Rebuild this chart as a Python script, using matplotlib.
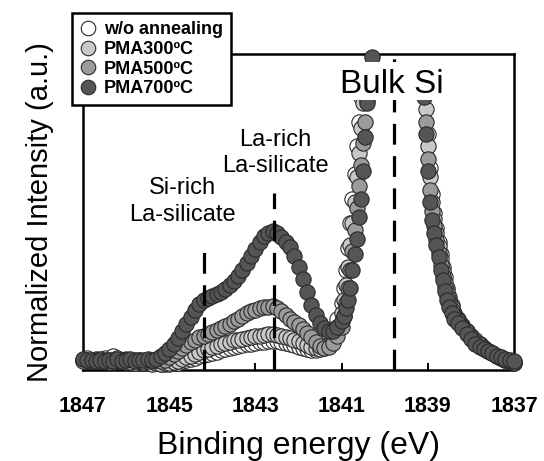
import numpy as np
import matplotlib
matplotlib.use("Agg")
import matplotlib.pyplot as plt
from matplotlib.patches import Rectangle

plt.rcParams['font.family'] = ['Liberation Sans', 'DejaVu Sans']

# binding energy grid (eV); the Si 1s peak top is off scale and not listed
energy = [1847.0, 1846.9, 1846.8, 1846.7, 1846.6, 1846.5, 1846.4, 1846.3, 1846.2, 1846.1,
          1846.0, 1845.9, 1845.8, 1845.7, 1845.6, 1845.5, 1845.4, 1845.3, 1845.2, 1845.1,
          1845.0, 1844.9, 1844.8, 1844.7, 1844.6, 1844.5, 1844.4, 1844.3, 1844.2, 1844.1,
          1844.0, 1843.9, 1843.8, 1843.7, 1843.6, 1843.5, 1843.4, 1843.3, 1843.2, 1843.1,
          1843.0, 1842.9, 1842.8, 1842.7, 1842.6, 1842.5, 1842.4, 1842.3, 1842.2, 1842.1,
          1842.0, 1841.9, 1841.8, 1841.7, 1841.6, 1841.5, 1841.4, 1841.3, 1841.2, 1841.1,
          1841.0,
          1840.95, 1840.9, 1840.85, 1840.8, 1840.75, 1840.7, 1840.65, 1840.6, 1840.55, 1840.5,
          1840.45, 1840.4, 1840.35, 1840.3,
          1839.15, 1839.1, 1839.05, 1839.0, 1838.95, 1838.9, 1838.85, 1838.8, 1838.75, 1838.7,
          1838.65, 1838.6, 1838.55, 1838.5, 1838.45,
          1838.4, 1838.3, 1838.2, 1838.1, 1838.0, 1837.9, 1837.8, 1837.7, 1837.6, 1837.5,
          1837.4, 1837.3, 1837.2, 1837.1, 1837.0]

int_wo = [0.008, 0.012, 0.004, 0.010, 0.006, 0.014, 0.008, 0.020, 0.012, 0.006,
          0.010, 0.004, 0.000, 0.006, -0.002, 0.003, -0.004, 0.000, -0.006, -0.008,
          -0.006, -0.004, -0.002, 0.002, 0.006, 0.010, 0.014, 0.018, 0.022, 0.026,
          0.030, 0.034, 0.038, 0.042, 0.046, 0.050, 0.053, 0.056, 0.058, 0.060,
          0.062, 0.064, 0.066, 0.067, 0.068, 0.067, 0.065, 0.062, 0.058, 0.054,
          0.050, 0.046, 0.042, 0.040, 0.040, 0.044, 0.054, 0.072, 0.100, 0.140,
          0.190,
          0.240, 0.300, 0.370, 0.450, 0.530, 0.610, 0.700, 0.780, 0.860, 1.030,
          1.110, 1.190, 1.260, 1.330,
          1.200, 1.020, 0.880, 0.740, 0.630, 0.545, 0.485, 0.435, 0.390, 0.350,
          0.310, 0.275, 0.240, 0.210, 0.185,
          0.160, 0.140, 0.120, 0.102, 0.086, 0.071, 0.058, 0.047, 0.037, 0.028,
          0.020, 0.013, 0.007, 0.002, -0.002]

int_300 = [0.006, 0.002, 0.007, 0.004, 0.009, 0.003, 0.006, 0.001, 0.005, 0.003,
           0.000, 0.004, -0.002, 0.002, -0.004, 0.000, -0.005, -0.002, -0.006, -0.003,
           -0.004, 0.000, 0.004, 0.010, 0.015, 0.020, 0.026, 0.032, 0.038, 0.043,
           0.048, 0.053, 0.058, 0.062, 0.066, 0.070, 0.073, 0.076, 0.079, 0.082,
           0.084, 0.086, 0.088, 0.090, 0.090, 0.088, 0.085, 0.082, 0.078, 0.073,
           0.068, 0.062, 0.056, 0.050, 0.045, 0.043, 0.046, 0.058, 0.080, 0.115,
           0.160,
           0.200, 0.250, 0.310, 0.380, 0.450, 0.520, 0.600, 0.680, 0.760, 0.840,
           1.020, 1.100, 1.180, 1.250,
           1.150, 0.940, 0.820, 0.700, 0.600, 0.520, 0.465, 0.420, 0.375, 0.335,
           0.295, 0.260, 0.230, 0.200, 0.180,
           0.155, 0.135, 0.118, 0.100, 0.084, 0.070, 0.057, 0.046, 0.037, 0.028,
           0.020, 0.013, 0.007, 0.002, -0.003]

int_500 = [0.004, 0.008, 0.002, 0.006, 0.003, 0.007, 0.001, 0.005, 0.008, 0.002,
           0.005, 0.001, 0.006, 0.003, 0.000, 0.004, 0.002, 0.005, 0.003, 0.008,
           0.016, 0.025, 0.035, 0.045, 0.055, 0.065, 0.073, 0.080, 0.086, 0.092,
           0.098, 0.104, 0.110, 0.117, 0.124, 0.132, 0.140, 0.150, 0.160, 0.166,
           0.170, 0.174, 0.177, 0.180, 0.182, 0.175, 0.165, 0.152, 0.140, 0.130,
           0.120, 0.108, 0.095, 0.080, 0.065, 0.052, 0.046, 0.050, 0.062, 0.085,
           0.115,
           0.150, 0.190, 0.240, 0.300, 0.360, 0.430, 0.500, 0.570, 0.640, 0.710,
           0.780, 0.850, 1.030, 1.120,
           1.080, 0.900, 0.780, 0.660, 0.560, 0.490, 0.440, 0.395, 0.355, 0.315,
           0.280, 0.245, 0.215, 0.190, 0.170,
           0.150, 0.132, 0.115, 0.097, 0.080, 0.066, 0.054, 0.044, 0.036, 0.028,
           0.020, 0.014, 0.008, 0.004, 0.000]

int_700 = [0.010, 0.005, 0.008, 0.003, 0.006, 0.002, 0.007, 0.004, 0.009, 0.003,
           0.006, 0.010, 0.004, 0.008, 0.005, 0.009, 0.006, 0.011, 0.019, 0.029,
           0.042, 0.058, 0.078, 0.100, 0.123, 0.146, 0.168, 0.188, 0.200, 0.207,
           0.213, 0.220, 0.228, 0.238, 0.250, 0.263, 0.280, 0.300, 0.320, 0.345,
           0.368, 0.390, 0.408, 0.420, 0.424, 0.418, 0.405, 0.390, 0.372, 0.345,
           0.310, 0.270, 0.226, 0.186, 0.152, 0.128, 0.110, 0.100, 0.100, 0.112,
           0.132,
           0.150, 0.175, 0.200, 0.240, 0.300, 0.350, 0.400, 0.470, 0.530, 0.620,
           0.730, 0.840, 0.920, 0.990,
           1.050, 0.860, 0.740, 0.620, 0.520, 0.460, 0.420, 0.380, 0.340, 0.300,
           0.265, 0.230, 0.200, 0.180, 0.160,
           0.140, 0.125, 0.110, 0.090, 0.075, 0.060, 0.050, 0.042, 0.035, 0.028,
           0.020, 0.015, 0.010, 0.006, 0.003]

labels = ['w/o annealing', 'PMA300\u00baC', 'PMA500\u00baC', 'PMA700\u00baC']
colors = ['#ffffff', '#c8c8c8', '#9b9b9b', '#555555']

# peak positions marked with dashed lines (eV) and how high they reach
peak_pos = [1844.19, 1842.56, 1839.79]
peak_top = [0.36, 0.55, 1.02]

fig = plt.figure(figsize=(5.44, 4.61), dpi=100)
ax = fig.add_axes([0.1526, 0.1974, 0.7923, 0.6855])

E = np.array(energy)
for vals, lab, col in zip([int_wo, int_300, int_500, int_700], labels, colors):
    v = np.array(vals)
    keep = v <= 1.0
    ax.plot(E[keep], v[keep], ls='none', marker='o', ms=11, mfc=col,
            mec='#2a2a2a', mew=0.8, clip_on=False, zorder=3, label=lab)

for xp, yt in zip(peak_pos, peak_top):
    ax.plot([xp, xp], [-0.026, yt], color='black', lw=2.3, dashes=(6.5, 3.6),
            clip_on=False, zorder=4)

ax.set_xlim(1847, 1837)
ax.set_ylim(-0.026, 1.0)

# white patch behind the "Bulk Si" label
ax.add_patch(Rectangle((1841.05, 0.852), -2.5, 0.122, facecolor='white',
                       edgecolor='none', zorder=5))
ax.text(1839.84, 0.873, 'Bulk Si', fontsize=24, ha='center', va='baseline', zorder=6)
ax.text(1842.535, 0.678, 'La-rich\nLa-silicate', fontsize=17, ha='center',
        va='center', multialignment='center', linespacing=1.25, zorder=6)
ax.text(1844.70, 0.522, 'Si-rich\nLa-silicate', fontsize=17, ha='center',
        va='center', multialignment='center', linespacing=1.3, zorder=6)

ax.set_xticks([1847, 1845, 1843, 1841, 1839, 1837])
ax.set_yticks([])
ax.tick_params(axis='x', direction='in', length=5, width=1.4, pad=19,
               labelsize=15.5)
for t in ax.get_xticklabels():
    t.set_fontweight('bold')
for s in ax.spines.values():
    s.set_linewidth(1.8)

ax.set_xlabel('Binding energy (eV)', fontsize=23, labelpad=10)
ax.set_ylabel('Normalized Intensity (a.u.)', fontsize=21, labelpad=21)

leg = ax.legend(loc='upper left', bbox_to_anchor=(72/544, 1-13/461),
                bbox_transform=fig.transFigure, borderaxespad=0,
                prop={'weight': 'bold', 'size': 13}, markerscale=0.95,
                handlelength=0.9, handletextpad=0.4, labelspacing=0.15,
                borderpad=0.45, fancybox=False, framealpha=1, edgecolor='black')
leg.get_frame().set_linewidth(1.8)
leg.set_zorder(10)

fig.savefig('out.png', dpi=100)
